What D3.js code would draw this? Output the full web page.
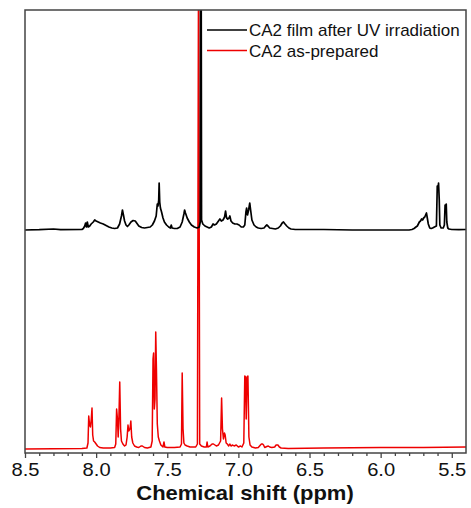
<!DOCTYPE html>
<html>
<head>
<meta charset="utf-8">
<script src="https://cdn.jsdelivr.net/npm/d3@7"></script>
<style>
  html, body { margin: 0; padding: 0; background: #fff; }
  svg { display: block; font-family: Arial, "Liberation Sans", Helvetica, sans-serif; }
</style>
</head>
<body>
<svg id="chart" width="471" height="508"></svg>
<script>
// 1H NMR spectra, [chemical shift (ppm), intensity above baseline]
const seriesNames = ["CA2 film after UV irradiation", "CA2 as-prepared"];
const seriesColors = ["#000000", "#ee0000"];

const irradiated = [
  [8.50,0],[8.40,0.3],[8.30,1],[8.25,0.3],[8.10,0.5],[8.09,1.5],[8.08,4],[8.074,7],[8.068,3],[8.062,8],
  [8.055,3],[8.045,4],[8.035,6],[8.020,8],[8.010,10],[8.000,9],[7.985,8],[7.97,7],[7.95,6],[7.93,4.5],
  [7.91,3],[7.89,2],[7.87,1.5],[7.85,2],[7.835,6],[7.822,14],[7.815,20],[7.808,15],[7.80,9],[7.79,5],
  [7.78,3.5],[7.77,5],[7.755,8],[7.74,9.5],[7.725,9],[7.715,7],[7.70,4],[7.68,2.5],[7.66,2],[7.64,2.5],
  [7.62,3],[7.605,5],[7.59,9],[7.578,14],[7.570,26],[7.565,24],[7.560,30],[7.557,47],[7.553,28],[7.548,22],
  [7.540,18],[7.530,12],[7.520,8],[7.505,5],[7.49,3],[7.478,2],[7.472,5],[7.466,2],[7.45,1.5],[7.43,1.5],
  [7.41,3],[7.395,8],[7.383,16],[7.378,20],[7.372,17],[7.36,12],[7.345,8],[7.33,5],[7.31,3],[7.29,2],
  [7.275,3],[7.268,8],[7.264,500],[7.259,10],[7.25,6],[7.235,4],[7.22,3],[7.205,2],[7.19,3],[7.178,6],
  [7.168,5],[7.155,6],[7.14,9],[7.13,11],[7.12,9],[7.108,10],[7.097,13],[7.090,19],[7.083,12],[7.075,11],
  [7.066,12],[7.060,14],[7.052,9],[7.04,7],[7.025,6],[7.01,6],[6.995,5],[6.98,3],[6.965,3],[6.955,5],
  [6.947,18],[6.942,22],[6.936,15],[6.928,20],[6.920,27],[6.914,20],[6.905,10],[6.89,5],[6.875,3],[6.86,2],
  [6.84,1.5],[6.82,2],[6.808,4],[6.800,5],[6.792,4],[6.78,2],[6.76,1.5],[6.74,1],[6.72,2],[6.705,4],
  [6.692,7],[6.683,8],[6.672,6],[6.66,4],[6.645,2],[6.63,1],[6.60,0.5],[6.40,0.5],[6.20,0],[6.00,0],
  [5.80,0],[5.78,0.5],[5.765,1.5],[5.752,3],[5.742,4],[5.735,6],[5.728,8],[5.720,9],[5.712,11],[5.705,10],
  [5.698,12],[5.690,13],[5.684,15],[5.678,17],[5.672,12],[5.665,6],[5.655,2],[5.645,1.5],[5.635,2],[5.622,3],
  [5.608,4],[5.602,44],[5.598,40],[5.593,47],[5.588,30],[5.584,5],[5.575,2],[5.560,2],[5.552,5],[5.547,25],
  [5.543,22],[5.539,26],[5.535,8],[5.528,2],[5.52,1],[5.50,0.5],[5.45,0.3],[5.40,0.5]
];

const asPrepared = [
  [8.50,0],[8.30,0.3],[8.10,0.5],[8.065,1],[8.057,6],[8.052,33],[8.046,24],[8.040,22],[8.034,30],[8.029,41],
  [8.024,14],[8.018,8],[8.010,7],[8.000,5],[7.990,3],[7.975,1.5],[7.95,1],[7.90,1],[7.87,1.5],[7.862,5],
  [7.856,40],[7.850,30],[7.845,12],[7.840,30],[7.834,67],[7.828,20],[7.822,8],[7.812,5],[7.800,3],[7.790,4],
  [7.782,12],[7.776,24],[7.770,18],[7.762,20],[7.756,28],[7.750,12],[7.742,6],[7.730,3],[7.715,2],[7.70,1.5],
  [7.685,3],[7.675,3],[7.66,1.5],[7.64,1],[7.615,2],[7.606,8],[7.600,90],[7.596,96],[7.591,40],[7.586,50],
  [7.581,117],[7.576,80],[7.570,25],[7.563,12],[7.555,8],[7.545,4],[7.530,2],[7.523,7],[7.517,2],[7.50,1.5],
  [7.45,1.5],[7.41,2],[7.400,5],[7.395,76],[7.389,20],[7.383,6],[7.375,4],[7.36,3],[7.34,2],[7.30,2],
  [7.288,5],[7.280,500],[7.272,5],[7.26,3],[7.24,2],[7.225,2],[7.220,7],[7.215,2],[7.20,3],[7.185,5],
  [7.175,5],[7.165,4],[7.155,3],[7.14,4],[7.125,8],[7.118,51],[7.112,20],[7.105,10],[7.098,16],[7.093,14],
  [7.086,6],[7.078,5],[7.068,3],[7.060,5],[7.052,3],[7.040,4],[7.030,3],[7.015,4],[7.000,2],[6.985,3],
  [6.975,2],[6.962,6],[6.955,73],[6.950,72],[6.945,30],[6.939,72],[6.933,73],[6.926,12],[6.918,4],[6.905,2],
  [6.88,1],[6.86,1.5],[6.845,4],[6.838,5],[6.830,5],[6.823,4],[6.815,1.5],[6.80,2.5],[6.79,3],[6.78,2],
  [6.765,1.5],[6.745,2],[6.735,4],[6.722,4],[6.712,2],[6.70,1],[6.65,0.5],[6.40,1],[6.00,1.5],[5.70,1.5],
  [5.40,2]
];

const majorTicks = [8.5, 8.0, 7.5, 7.0, 6.5, 6.0, 5.5];
const minorTicks = [8.4, 8.3, 8.2, 8.1, 7.9, 7.8, 7.7, 7.6, 7.4, 7.3, 7.2, 7.1,
                    6.9, 6.8, 6.7, 6.6, 6.4, 6.3, 6.2, 6.1, 5.9, 5.8, 5.7, 5.6];
const xLabel = "Chemical shift (ppm)";

// Plot-area bounds
const plotLeft = 25, plotRight = 466, plotTop = 10, plotBottom = 453;
const stackOffset = 219; // vertical offset of the upper trace, in intensity units

const svg = d3.select("#chart");

const x = d3.scaleLinear().domain([8.5, 5.4]).range([plotLeft, plotRight]);
const y = d3.scaleLinear().domain([0, 439]).range([449, 10]);

svg.append("defs").append("clipPath").attr("id", "plot-clip")
  .append("rect").attr("x", plotLeft).attr("y", plotTop)
  .attr("width", plotRight - plotLeft).attr("height", plotBottom - plotTop);

const plot = svg.append("g").attr("clip-path", "url(#plot-clip)");

const lineFor = offset => d3.line()
  .x(d => x(d[0]))
  .y(d => y(d[1] + offset));

plot.append("path").datum(asPrepared)
  .attr("fill", "none").attr("stroke", seriesColors[1])
  .attr("stroke-width", 1.5).attr("stroke-linejoin", "round")
  .attr("d", lineFor(0));

plot.append("path").datum(irradiated)
  .attr("fill", "none").attr("stroke", seriesColors[0])
  .attr("stroke-width", 1.7).attr("stroke-linejoin", "round")
  .attr("d", lineFor(stackOffset));

// Frame
svg.append("rect")
  .attr("x", plotLeft).attr("y", plotTop)
  .attr("width", plotRight - plotLeft).attr("height", plotBottom - plotTop)
  .attr("fill", "none").attr("stroke", "#444").attr("stroke-width", 1.5);

// Bottom axis: minor ticks, then labelled major ticks
const minorAxis = d3.axisBottom(x).tickValues(minorTicks).tickSize(3).tickSizeOuter(0).tickFormat("");
const gMinor = svg.append("g").attr("transform", `translate(0,${plotBottom})`).call(minorAxis);
gMinor.select(".domain").remove();
gMinor.selectAll("line").attr("stroke", "#444").attr("stroke-width", 1.3);

const majorAxis = d3.axisBottom(x).tickValues(majorTicks).tickSize(5).tickSizeOuter(0)
  .tickPadding(5).tickFormat(d3.format(".1f"));
const gMajor = svg.append("g").attr("transform", `translate(0,${plotBottom})`).call(majorAxis);
gMajor.select(".domain").remove();
gMajor.selectAll("line").attr("stroke", "#444").attr("stroke-width", 1.3);
gMajor.selectAll("text")
  .attr("font-family", "Arial, 'Liberation Sans', sans-serif")
  .attr("font-size", 18).attr("fill", "#111")
  .attr("transform", "scale(1.12,1)");

svg.append("text")
  .attr("transform", "translate(245,500) scale(1.1,1)")
  .attr("text-anchor", "middle")
  .attr("font-size", 20).attr("font-weight", "bold").attr("fill", "#111")
  .text(xLabel);

// Legend
const legend = svg.append("g");
seriesNames.forEach((name, i) => {
  const ly = 30 + i * 20.5;
  legend.append("line")
    .attr("x1", 207).attr("x2", 247).attr("y1", ly).attr("y2", ly)
    .attr("stroke", seriesColors[i]).attr("stroke-width", 1.7);
  legend.append("text")
    .attr("x", 249).attr("y", ly + 6)
    .attr("font-size", 17).attr("fill", "#111")
    .text(name);
});
</script>
</body>
</html>
